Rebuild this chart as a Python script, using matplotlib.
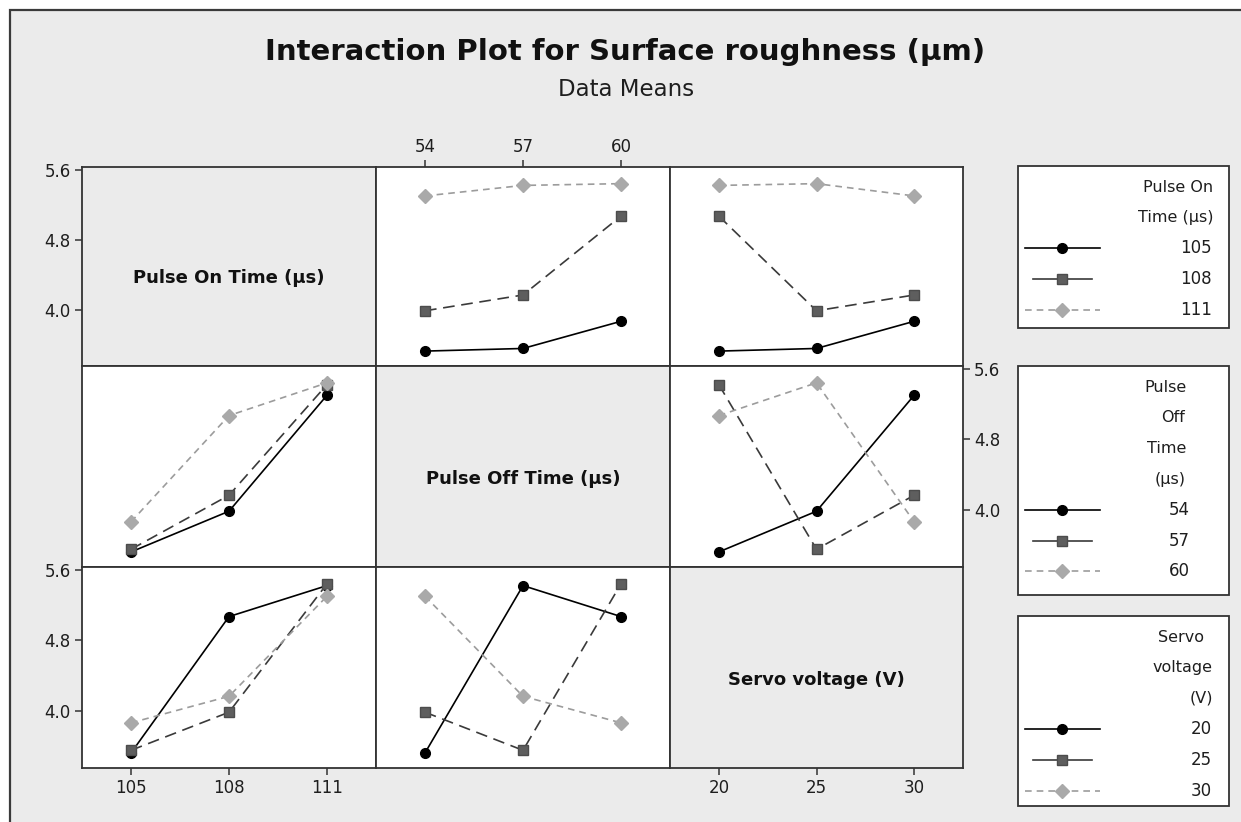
"""
Interaction plot (Minitab style) for surface roughness, L9 design.
Rows = factor drawn as traces, columns = factor on the x axis.
"""
import numpy as np
import pandas as pd
import matplotlib
matplotlib.use("Agg")
import matplotlib.pyplot as plt
from matplotlib.patches import Rectangle
from matplotlib.lines import Line2D

plt.rcParams["font.family"] = ["DejaVu Sans"]

# ── data: the nine runs ──
pulse_on = [105, 105, 105, 108, 108, 108, 111, 111, 111]
pulse_off = [54, 57, 60, 54, 57, 60, 54, 57, 60]
servo = [20, 25, 30, 25, 30, 20, 30, 20, 25]
roughness = [3.53, 3.56, 3.87, 3.99, 4.17, 5.07, 5.30, 5.42, 5.44]

factors = ["pulse_on", "pulse_off", "servo"]
factor_names = ["Pulse On Time (µs)", "Pulse Off Time (µs)", "Servo voltage (V)"]
levels = [[105, 108, 111], [54, 57, 60], [20, 25, 30]]
legend_titles = [["Pulse On", "Time (µs)"], ["Pulse", "Off", "Time", "(µs)"],
                 ["Servo", "voltage", "(V)"]]
y_ticks = [4.0, 4.8, 5.6]

df = pd.DataFrame({"pulse_on": pulse_on, "pulse_off": pulse_off,
                   "servo": servo, "ra": roughness})

# ── look ──
W, H = 1241, 822
BG = "#ebebeb"
EDGE = "#333333"
TXT = "#1e1e1e"
STYLES = [
    dict(marker="o", color="black", mfc="black", mec="black", ls="-", ms=7, lw=1.2),
    dict(marker="s", color="#3a3a3a", mfc="#5e5e5e", mec="#4c4c4c", ls=(0, (7, 4)), ms=6.8, lw=1.2),
    dict(marker="D", color="#9c9c9c", mfc="#a9a9a9", mec="#a9a9a9", ls=(0, (4, 3)), ms=6.8, lw=1.2),
]
LEGEND_LS = ["-", "-", (0, (4, 3))]
XS = [82, 376, 670, 963]     # column edges, px
YS = [167, 366, 567, 768]    # row edges, px
YLIM = (3.36, 5.63)

fig = plt.figure(figsize=(W / 100, H / 100), dpi=100)
fig.patch.set_facecolor("white")

bg = fig.add_axes([0, 0, 1, 1], zorder=-1)
bg.set_xlim(0, W)
bg.set_ylim(H, 0)
bg.axis("off")
bg.add_patch(Rectangle((10, 10), W, H, facecolor=BG, edgecolor="#3a3a3a", lw=1.6))

bg.text(625, 52, "Interaction Plot for Surface roughness (µm)", ha="center", va="center",
        fontsize=21, fontweight="bold", color="#111111")
bg.text(626, 89, "Data Means", ha="center", va="center", fontsize=16.5, color=TXT)

for r in range(3):
    for c in range(3):
        x0, x1 = XS[c], XS[c + 1]
        y0, y1 = YS[r], YS[r + 1]
        ax = fig.add_axes([x0 / W, 1 - y1 / H, (x1 - x0) / W, (y1 - y0) / H])
        lv = levels[c]
        pad = 0.25 * (lv[-1] - lv[0])
        ax.set_xlim(lv[0] - pad, lv[-1] + pad)
        ax.set_ylim(*YLIM)
        for s in ax.spines.values():
            s.set_color(EDGE)
            s.set_linewidth(1.3)
        ax.tick_params(length=5, width=1.1, color=EDGE, labelsize=12, labelcolor=TXT,
                       pad=3, left=False, bottom=False, labelleft=False, labelbottom=False)
        ax.set_xticks([])
        ax.set_yticks([])

        if r == c:
            ax.set_facecolor(BG)
            ax.text(0.5, 0.44, factor_names[r], transform=ax.transAxes, ha="center",
                    va="center", fontsize=13, fontweight="bold", color="#111111")
        else:
            ax.set_facecolor("white")
            means = df.groupby([factors[r], factors[c]])["ra"].mean()
            for k, L in enumerate(levels[r]):
                ys = [means[(L, m)] for m in lv]
                ax.plot(lv, ys, zorder=3, **STYLES[k])

        # outer tick marks like Minitab
        if (r, c) in [(0, 0), (2, 0)]:
            ax.set_yticks(y_ticks)
            ax.set_yticklabels([f"{v:.1f}" for v in y_ticks])
            ax.tick_params(axis="y", left=True, labelleft=True)
        if (r, c) == (1, 2):
            ax.set_yticks(y_ticks)
            ax.set_yticklabels([f"{v:.1f}" for v in y_ticks])
            ax.tick_params(axis="y", right=True, labelright=True)
        if (r, c) in [(2, 0), (2, 2)]:
            ax.set_xticks(lv)
            ax.set_xticklabels([str(v) for v in lv])
            ax.tick_params(axis="x", bottom=True, labelbottom=True)
        if (r, c) == (0, 1):
            ax.set_xticks(lv)
            ax.set_xticklabels([str(v) for v in lv])
            ax.tick_params(axis="x", top=True, labeltop=True)

# ── legends, one per row factor ──
boxes = [(166, 328), (366, 595), (616, 806)]
title_x = [[1213, 1213], [1187, 1185, 1186, 1186], [1204, 1213, 1213]]
label_x = [1212, 1190, 1212]
for i, (top, bot) in enumerate(boxes):
    bg.add_patch(Rectangle((1018, top), 211, bot - top, facecolor="white",
                           edgecolor=EDGE, lw=1.3))
    y = top + 21
    for t, tx in zip(legend_titles[i], title_x[i]):
        bg.text(tx, y, t, ha="right", va="center", fontsize=11.5, color=TXT)
        y += 30.7
    for k, L in enumerate(levels[i]):
        st = STYLES[k]
        x_start, x_end = (1025, 1100) if k != 1 else (1033, 1092)
        bg.add_line(Line2D([x_start, x_end], [y, y], color=st["color"], ls=LEGEND_LS[k],
                           lw=st["lw"]))
        bg.add_line(Line2D([1062], [y], marker=st["marker"], ms=st["ms"],
                           mfc=st["mfc"], mec=st["mec"], ls="none"))
        bg.text(label_x[i], y, str(L), ha="right", va="center", fontsize=12, color=TXT)
        y += 30.7

fig.savefig("out.png", dpi=100, facecolor="white")
